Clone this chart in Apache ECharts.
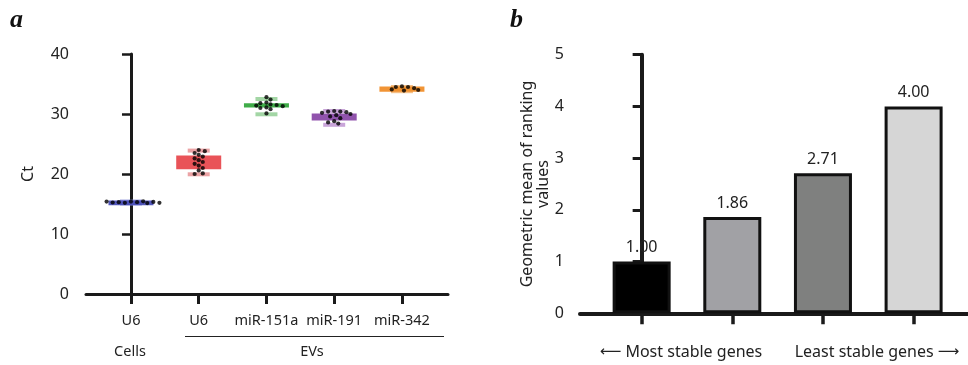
<!DOCTYPE html>
<html><head><meta charset="utf-8">
<script src="https://cdn.jsdelivr.net/npm/echarts@6/dist/echarts.min.js"></script>
<style>html,body{margin:0;padding:0;background:#fff}#c{width:968px;height:365px}</style>
</head><body><div id="c"></div>
<script>
// ---------- Panel a data ----------
const groupNames = ['U6', 'U6', 'miR-151a', 'miR-191', 'miR-342'];
const cellsU6   = [15.4, 15.3, 15.2, 15.45, 15.3, 15.15, 15.25, 15.35, 15.4, 15.2];
const evU6      = [24.0, 23.8, 23.5, 23.2, 22.9, 22.6, 22.3, 22.0, 21.7, 21.4, 21.0, 20.6, 20.1, 20.0];
const evMiR151a = [32.8, 32.4, 31.9, 31.8, 31.6, 31.5, 31.4, 31.3, 31.1, 31.0, 30.8, 30.1];
const evMiR191  = [30.5, 30.4, 30.4, 30.3, 30.2, 30.0, 29.8, 29.6, 29.3, 28.8, 28.6, 28.4];
const evMiR342  = [34.6, 34.5, 34.5, 34.3, 34.1, 34.0, 33.9];
const boxLow     = [14.8, 20.8, 31.1, 28.9, 33.7];
const boxHigh    = [15.6, 23.1, 31.8, 30.1, 34.6];
const whiskerMin = [15.1, 19.95, 29.95, 28.2, 33.8];
const whiskerMax = [15.4, 23.9, 32.5, 30.5, 34.5];
const yTicksA = [0, 10, 20, 30, 40];

// ---------- Panel b data ----------
const stabilityValues = [1.00, 1.86, 2.71, 4.00];
const yTicksB = [0, 1, 2, 3, 4, 5];

// ---------- styles ----------
const boxColors   = ['#4a4fb8', '#e84a4f', '#36a83f', '#8a4aa8', '#f08e2a'];
const capColors   = ['#8e92d8', '#eba3a5', '#a3d6a5', '#c9a5d9', '#f5bf86'];
const barColors   = ['#000000', '#a1a1a5', '#7f807f', '#d6d6d6'];
const AX = '#1a1a1a';
const FONT = 'Noto Sans';

const groups = [cellsU6, evU6, evMiR151a, evMiR191, evMiR342];

// simple beeswarm jitter (layout only)
const PX_X = 67.75, PX_Y = 6, DOT = 4.4, STEP = 0.03;
function swarm(values, gi) {
  const placed = [];
  return values.map(v => {
    let off = 0;
    for (let k = 0; k < 60; k++) {
      const o = (k % 2 ? 1 : -1) * Math.ceil(k / 2) * STEP;
      const hit = placed.some(p => {
        const dx = (p[0] - o) * PX_X, dy = (p[1] - v) * PX_Y;
        return dx * dx + dy * dy < DOT * DOT;
      });
      if (!hit) { off = o; break; }
    }
    placed.push([off, v]);
    return [gi + off, v];
  });
}
const dotData = [];
groups.forEach((g, gi) => swarm(g, gi).forEach(p => dotData.push(p)));

const boxData = groupNames.map((n, i) => [i, boxLow[i], boxHigh[i], whiskerMin[i], whiskerMax[i]]);
const barData = stabilityValues.map((v, i) => ({ value: [i, v], itemStyle: { color: barColors[i] } }));

const chart = echarts.init(document.getElementById('c'));
chart.setOption({
  animation: false,
  textStyle: { fontFamily: FONT },
  grid: [
    { left: 86, right: 520, top: 54, bottom: 71 },
    { left: 580, right: 0, top: 54.7, bottom: 51.7 }
  ],
  xAxis: [
    {
      gridIndex: 0, type: 'value', min: -0.664, max: 4.68,
      splitLine: { show: false },
      axisLine: { lineStyle: { color: AX, width: 3 } },
      axisTick: { customValues: [0, 1, 2, 3, 4], length: 10, lineStyle: { color: AX, width: 3 } },
      axisLabel: { customValues: [0, 1, 2, 3, 4], formatter: v => groupNames[Math.round(v)], fontSize: 14.5, color: '#222', margin: 19, fontFamily: FONT }
    },
    {
      gridIndex: 1, type: 'value', min: -0.68, max: 3.6,
      splitLine: { show: false },
      axisLine: { lineStyle: { color: AX, width: 4 } },
      axisTick: { customValues: [0, 1, 2, 3], length: 11, lineStyle: { color: AX, width: 3.5 } },
      axisLabel: { show: false }
    }
  ],
  yAxis: [
    {
      gridIndex: 0, type: 'value', min: 0, max: 40, interval: 10,
      splitLine: { show: false },
      axisLine: { show: true, lineStyle: { color: AX, width: 3 } },
      axisTick: { show: true, length: 9, lineStyle: { color: AX, width: 2.5 } },
      axisLabel: { fontSize: 16, color: '#222', margin: 17, fontFamily: FONT },
      name: 'Ct', nameLocation: 'middle', nameRotate: 90, nameGap: 50,
      nameTextStyle: { fontSize: 16, color: '#222', fontFamily: FONT }
    },
    {
      gridIndex: 1, type: 'value', min: 0, max: 5, interval: 1,
      splitLine: { show: false },
      axisLine: { show: true, lineStyle: { color: AX, width: 4 } },
      axisTick: { show: true, length: 9, lineStyle: { color: AX, width: 3 } },
      axisLabel: { fontSize: 16, color: '#222', margin: 16, fontFamily: FONT },
      name: 'Geometric mean of ranking\nvalues', nameLocation: 'middle', nameRotate: 90, nameGap: 29,
      nameTextStyle: { fontSize: 16, color: '#222', lineHeight: 16, fontFamily: FONT }
    }
  ],
  series: [
    {
      type: 'custom', xAxisIndex: 0, yAxisIndex: 0, data: boxData, z: 2,
      renderItem: (params, api) => {
        const i = api.value(0);
        const boxW = 45, capW = 22, capH = 4;
        const pLo = api.coord([i, api.value(1)]);
        const pHi = api.coord([i, api.value(2)]);
        const pMin = api.coord([i, api.value(3)]);
        const pMax = api.coord([i, api.value(4)]);
        const cx = pLo[0];
        return {
          type: 'group',
          children: [
            { type: 'rect', shape: { x: cx - capW / 2, y: pMax[1] - capH / 2, width: capW, height: capH }, style: { fill: capColors[i] } },
            { type: 'rect', shape: { x: cx - capW / 2, y: pMin[1] - capH / 2, width: capW, height: capH }, style: { fill: capColors[i] } },
            { type: 'rect', shape: { x: cx - boxW / 2, y: pHi[1], width: boxW, height: pLo[1] - pHi[1] }, style: { fill: boxColors[i], opacity: 0.95 } }
          ]
        };
      }
    },
    {
      type: 'scatter', xAxisIndex: 0, yAxisIndex: 0, data: dotData, z: 3,
      symbol: 'circle', symbolSize: 4.2, itemStyle: { color: '#000' }
    },
    {
      type: 'bar', xAxisIndex: 1, yAxisIndex: 1, barWidth: 58,
      data: barData,
      itemStyle: { borderColor: '#111', borderWidth: 3 },
      label: { show: false }
    },
    {
      type: 'custom', xAxisIndex: 1, yAxisIndex: 1, z: 5,
      data: stabilityValues.map((v, i) => [i, v]),
      renderItem: (params, api) => {
        const p = api.coord([api.value(0), api.value(1)]);
        return {
          type: 'text',
          style: { text: api.value(1).toFixed(2), x: p[0], y: p[1] - 6, textAlign: 'center', textVerticalAlign: 'bottom',
                   font: '16px "Noto Sans"', fill: '#222' }
        };
      }
    }
  ],
  graphic: [
    { type: 'text', left: 10, top: 7, style: { text: 'a', font: 'italic bold 26px "Liberation Serif"', fill: '#111' } },
    { type: 'text', left: 510, top: 7, style: { text: 'b', font: 'italic bold 26px "Liberation Serif"', fill: '#111' } },
    { type: 'line', shape: { x1: 185, y1: 336.5, x2: 444, y2: 336.5 }, style: { stroke: '#222', lineWidth: 1 } },
    { type: 'text', x: 130, y: 352, style: { text: 'Cells', font: '14.5px "Noto Sans"', fill: '#222', textAlign: 'center', textVerticalAlign: 'middle' } },
    { type: 'text', x: 312, y: 352, style: { text: 'EVs', font: '14.5px "Noto Sans"', fill: '#222', textAlign: 'center', textVerticalAlign: 'middle' } },
    { type: 'text', x: 681, y: 352, style: {
        text: '{a|\u27F5} Most stable genes', font: '16px "Noto Sans"', fill: '#222', textAlign: 'center', textVerticalAlign: 'middle',
        rich: { a: { fontFamily: 'DejaVu Sans', fontSize: 15, fill: '#222' } } } },
    { type: 'text', x: 877, y: 352, style: {
        text: 'Least stable genes {a|\u27F6}', font: '16px "Noto Sans"', fill: '#222', textAlign: 'center', textVerticalAlign: 'middle',
        rich: { a: { fontFamily: 'DejaVu Sans', fontSize: 15, fill: '#222' } } } }
  ]
});
</script></body></html>
